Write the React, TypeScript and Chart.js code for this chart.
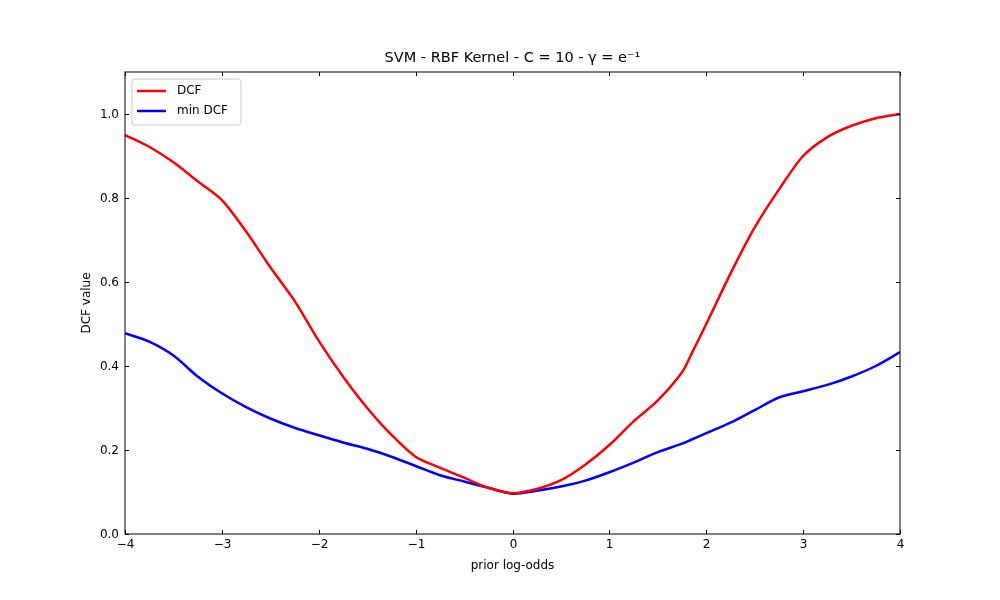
import { useEffect, useRef } from "react";
import { Chart, registerables } from "chart.js";

Chart.register(...registerables);

const xs = [-4, -3.75, -3.5, -3.25, -3, -2.75, -2.5, -2.25, -2, -1.75, -1.5, -1.25, -1, -0.75, -0.5, -0.25, 0,
  0.25, 0.5, 0.75, 1, 1.25, 1.5, 1.75, 1.85, 2, 2.25, 2.5, 2.75, 3, 3.25, 3.5, 3.75, 4];
const dcf = [0.95, 0.922, 0.885, 0.84, 0.795, 0.72, 0.635, 0.555, 0.46, 0.375, 0.3, 0.236, 0.184, 0.158, 0.134, 0.11, 0.097,
  0.107, 0.128, 0.165, 0.212, 0.268, 0.318, 0.385, 0.43, 0.5, 0.62, 0.73, 0.82, 0.9, 0.945, 0.972, 0.99, 1.0];
const minDcf = [0.478, 0.458, 0.425, 0.375, 0.335, 0.302, 0.275, 0.253, 0.235, 0.218, 0.203, 0.184, 0.162, 0.14, 0.125, 0.11, 0.096,
  0.103, 0.113, 0.127, 0.147, 0.17, 0.195, 0.215, 0.225, 0.24, 0.265, 0.295, 0.325, 0.34, 0.355, 0.375, 0.4, 0.433];
const xTicks = [-4, -3, -2, -1, 0, 1, 2, 3, 4];
const yTicks = [0, 0.2, 0.4, 0.6, 0.8, 1.0];
const FONT = "DejaVu Sans";

export default function App() {
  const ref = useRef<HTMLCanvasElement>(null);
  useEffect(() => {
    document.body.style.margin = "0";
    const ctx = ref.current?.getContext("2d");
    if (!ctx) return;
    const deco = {
      id: "deco",
      afterDraw(c: any) {
        const g = c.ctx;
        const a = c.chartArea;
        const xs_ = c.scales.x, ys_ = c.scales.y;
        g.save();
        g.strokeStyle = "#000";
        g.lineWidth = 1;
        g.strokeRect(a.left, a.top, a.right - a.left, a.bottom - a.top);
        g.fillStyle = "#000";
        g.font = `12px "${FONT}"`;
        g.textAlign = "center";
        g.textBaseline = "top";
        g.beginPath();
        for (const t of xTicks) {
          const p = Math.round(xs_.getPixelForValue(t)) + 0.5;
          g.moveTo(p, a.bottom); g.lineTo(p, a.bottom - 4);
          g.moveTo(p, a.top); g.lineTo(p, a.top + 4);
          g.fillText(t < 0 ? "\u2212" + Math.abs(t) : String(t), p, a.bottom + 5);
        }
        g.textAlign = "right";
        g.textBaseline = "middle";
        for (const t of yTicks) {
          const p = Math.round(ys_.getPixelForValue(t)) + 0.5;
          g.moveTo(a.left, p); g.lineTo(a.left + 4, p);
          g.moveTo(a.right, p); g.lineTo(a.right - 4, p);
          g.fillText(t.toFixed(1), a.left - 6, p);
        }
        g.stroke();
        g.textAlign = "center";
        g.textBaseline = "alphabetic";
        g.fillText("prior log-odds", (a.left + a.right) / 2, 569);
        g.save();
        g.translate(90, (a.top + a.bottom) / 2);
        g.rotate(-Math.PI / 2);
        g.fillText("DCF value", 0, 0);
        g.restore();
        g.font = `14.5px "${FONT}"`;
        g.fillText("SVM - RBF Kernel - C = 10 - \u03b3 = e\u207b\u00b9", (a.left + a.right) / 2, 62);
        // legend
        g.fillStyle = "rgba(255,255,255,0.85)";
        g.strokeStyle = "#cccccc";
        g.beginPath();
        g.roundRect(132, 79, 109, 46, 3);
        g.fill(); g.stroke();
        g.font = `12px "${FONT}"`;
        g.textAlign = "left";
        g.textBaseline = "middle";
        const items: [string, string, number][] = [["DCF", "red", 91], ["min DCF", "blue", 111]];
        for (const [lab, col, y] of items) {
          g.strokeStyle = col; g.lineWidth = 2.5;
          g.beginPath(); g.moveTo(137, y); g.lineTo(166, y); g.stroke();
          g.fillStyle = "#000";
          g.fillText(lab, 177, y);
        }
        g.restore();
      },
    };
    const chart = new Chart(ctx, {
      type: "line",
      data: {
        datasets: [
          { label: "DCF", data: xs.map((x, i) => ({ x, y: dcf[i] })), borderColor: "red", borderWidth: 2.5, pointRadius: 0, tension: 0.3 },
          { label: "min DCF", data: xs.map((x, i) => ({ x, y: minDcf[i] })), borderColor: "blue", borderWidth: 2.5, pointRadius: 0, tension: 0.3 },
        ],
      },
      options: {
        animation: false,
        responsive: false,
        layout: { padding: { left: 0, right: 100, top: 72, bottom: 0 } },
        plugins: { legend: { display: false }, tooltip: { enabled: false } },
        scales: {
          x: { type: "linear", min: -4, max: 4, grid: { display: false }, border: { display: false }, ticks: { display: false },
            afterFit: (s: any) => { s.height = 66; } },
          y: { min: 0, max: 1.1, grid: { display: false }, border: { display: false }, ticks: { display: false },
            afterFit: (s: any) => { s.width = 125; } },
        },
      },
      plugins: [deco],
    });
    return () => chart.destroy();
  }, []);
  return <canvas ref={ref} width={1000} height={600} style={{ display: "block" }} />;
}
